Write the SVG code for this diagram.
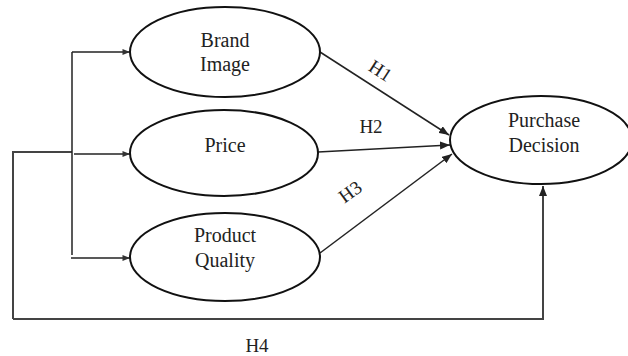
<svg xmlns="http://www.w3.org/2000/svg" width="628" height="356" viewBox="0 0 628 356">
  <defs>
    <marker id="arrow" viewBox="0 0 10 8" refX="10" refY="4" markerWidth="10" markerHeight="8" markerUnits="userSpaceOnUse" orient="auto">
      <path d="M0,0 L10,4 L0,8 Z" fill="#222"/>
    </marker>
    <marker id="arrowSmall" viewBox="0 0 10 8" refX="10" refY="4" markerWidth="9" markerHeight="6" markerUnits="userSpaceOnUse" orient="auto">
      <path d="M0,0 L10,4 L0,8 Z" fill="#333"/>
    </marker>
  </defs>
  <style>
    .node ellipse { fill: #fff; stroke: #111; stroke-width: 2; }
    .label { font-family: "Liberation Serif", "Times New Roman", serif; font-size: 20px; fill: #222; text-anchor: middle; }
    .hyp { font-family: "Liberation Serif", "Times New Roman", serif; font-size: 19px; fill: #222; text-anchor: middle; }
    .path { fill: none; stroke: #222; stroke-width: 1.5; }
    .feed { fill: none; stroke: #444; stroke-width: 2; }
  </style>
  <rect width="628" height="356" fill="#fff"/>

  <g id="connectors">
    <!-- distribution bus on the left -->
    <polyline class="feed" points="13,319 13,152 72,152"/>
    <polyline class="path" points="72,52 72,255"/>
    <line class="path" x1="72" y1="52" x2="130" y2="52" marker-end="url(#arrowSmall)"/>
    <line class="path" x1="74" y1="154" x2="130" y2="154" marker-end="url(#arrowSmall)"/>
    <line class="path" x1="71" y1="258" x2="130" y2="258" marker-end="url(#arrowSmall)"/>
    <!-- H1, H2, H3 -->
    <line class="path" x1="320" y1="52" x2="449" y2="135" marker-end="url(#arrow)"/>
    <line class="path" x1="318" y1="152" x2="450" y2="145" marker-end="url(#arrow)"/>
    <line class="path" x1="320" y1="253" x2="452" y2="154" marker-end="url(#arrow)"/>
    <!-- H4 loop -->
    <polyline class="feed" points="13,319 543,319 543,186" marker-end="url(#arrow)"/>
  </g>

  <g id="brand-image" class="node">
    <ellipse cx="225" cy="52" rx="95" ry="45"/>
    <text class="label" x="225" y="47">Brand</text>
    <text class="label" x="225" y="71">Image</text>
  </g>
  <g id="price" class="node">
    <ellipse cx="224" cy="153" rx="94" ry="43"/>
    <text class="label" x="225" y="152">Price</text>
  </g>
  <g id="product-quality" class="node">
    <ellipse cx="225" cy="257" rx="95" ry="44"/>
    <text class="label" x="225" y="242">Product</text>
    <text class="label" x="225" y="267">Quality</text>
  </g>
  <g id="purchase-decision" class="node">
    <ellipse cx="541" cy="140" rx="91" ry="44"/>
    <text class="label" x="544" y="127">Purchase</text>
    <text class="label" x="544" y="152">Decision</text>
  </g>

  <g id="hypotheses">
    <text class="hyp" transform="translate(377,76) rotate(33)">H1</text>
    <text class="hyp" x="371" y="133">H2</text>
    <text class="hyp" transform="translate(354,197) rotate(-36)">H3</text>
    <text class="hyp" x="257" y="352">H4</text>
  </g>
</svg>
